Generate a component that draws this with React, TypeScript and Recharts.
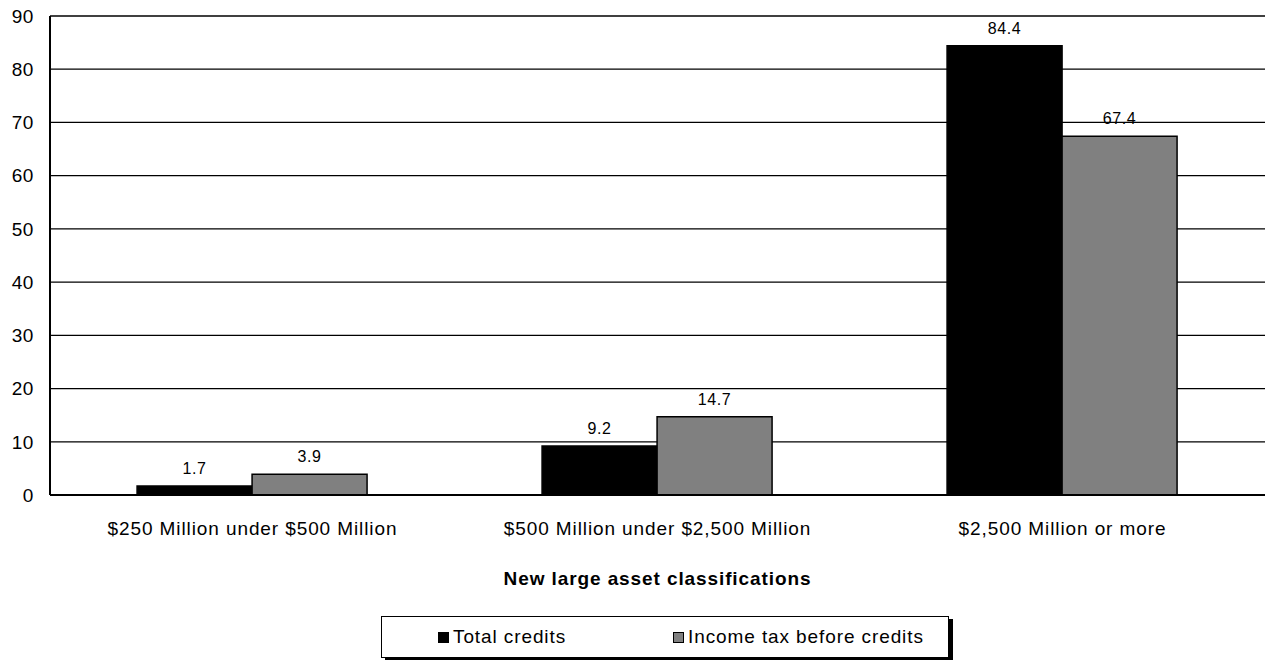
import React from "react";
import {
  BarChart,
  Bar,
  XAxis,
  YAxis,
  CartesianGrid,
  LabelList,
} from "recharts";

const categories = [
  "$250 Million under $500 Million",
  "$500 Million under $2,500 Million",
  "$2,500 Million or more",
];
const totalCredits = [1.7, 9.2, 84.4];
const incomeTaxBeforeCredits = [3.9, 14.7, 67.4];
const yTicks = [0, 10, 20, 30, 40, 50, 60, 70, 80, 90];

const seriesInfo = [
  { key: "total", name: "Total credits", color: "#000000" },
  { key: "income", name: "Income tax before credits", color: "#808080" },
];

const data = categories.map((name, i) => ({
  name,
  total: totalCredits[i],
  income: incomeTaxBeforeCredits[i],
}));

const FONT = "'Liberation Sans', Arial, sans-serif";

/** legend box with a drop shadow, like the old spreadsheet export */
function BoxLegend() {
  const iconLeft = [56, 291];
  return (
    <div
      style={{
        position: "absolute",
        left: 381,
        top: 616,
        width: 566,
        height: 40,
        border: "1.5px solid #000",
        boxShadow: "4px 3px 0 #000",
        background: "#fff",
        fontFamily: FONT,
        fontSize: 19,
        letterSpacing: 0.9,
        color: "#000",
      }}
    >
      {seriesInfo.map((s, i) => (
        <div
          key={s.key}
          style={{
            position: "absolute",
            left: iconLeft[i],
            top: 0,
            height: 40,
            display: "flex",
            alignItems: "center",
            whiteSpace: "nowrap",
          }}
        >
          <span
            style={{
              display: "inline-block",
              width: 9,
              height: 9,
              background: s.color,
              border: "1.5px solid #000",
              marginRight: 4,
            }}
          />
          <span>{s.name}</span>
        </div>
      ))}
    </div>
  );
}

export default function App() {
  return (
    <div
      style={{
        position: "absolute",
        left: 0,
        top: 0,
        width: 1265,
        height: 660,
        background: "#fff",
      }}
    >
      <BarChart
        width={1265}
        height={660}
        data={data}
        margin={{ top: 16, right: 0, left: 0, bottom: 70 }}
        barCategoryGap="21.5%"
        barGap={0}
      >
        <CartesianGrid vertical={false} stroke="#000" strokeWidth={1.3} />
        <XAxis
          dataKey="name"
          height={95}
          axisLine={{ stroke: "#000", strokeWidth: 2 }}
          tickLine={false}
          tickSize={0}
          tickMargin={27}
          tick={{ fill: "#000", fontSize: 19, fontFamily: FONT, letterSpacing: 0.9 }}
          label={{
            value: "New large asset classifications",
            position: "insideBottom",
            offset: 5,
            fill: "#000",
            fontSize: 19,
            fontWeight: "bold",
            fontFamily: FONT,
            letterSpacing: 0.9,
          }}
        />
        <YAxis
          width={50}
          domain={[0, 90]}
          ticks={yTicks}
          interval={0}
          axisLine={{ stroke: "#000", strokeWidth: 2 }}
          tickLine={false}
          tickSize={0}
          tickMargin={16}
          tick={{ fill: "#000", fontSize: 19, fontFamily: FONT, letterSpacing: 0.6 }}
        />
        {seriesInfo.map((s) => (
          <Bar
            key={s.key}
            dataKey={s.key}
            name={s.name}
            fill={s.color}
            stroke="#000"
            strokeWidth={1.5}
            isAnimationActive={false}
          >
            <LabelList
              dataKey={s.key}
              position="top"
              offset={12}
              fill="#000"
              fontSize={16}
              fontFamily={FONT}
              letterSpacing={0.6}
            />
          </Bar>
        ))}
      </BarChart>
      <BoxLegend />
    </div>
  );
}
